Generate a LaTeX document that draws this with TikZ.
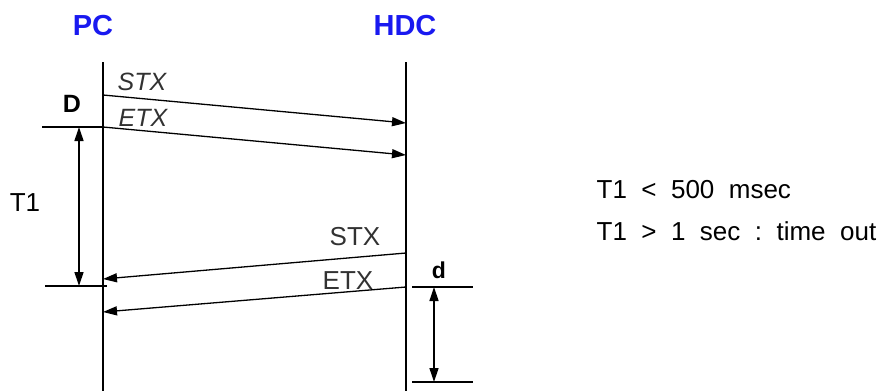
\documentclass[tikz,border=0pt]{standalone}
\usepackage{fontspec}
\setmainfont{Liberation Sans}
\usetikzlibrary{arrows.meta}
\definecolor{titleblue}{RGB}{25,25,240}
\definecolor{msggray}{RGB}{50,50,50}
\tikzset{
  title/.style={font=\bfseries\fontsize{29}{32}\selectfont,text=titleblue},
  msg/.style={font=\fontsize{26}{30}\selectfont,text=msggray,inner sep=0pt},
  msgit/.style={msg,font=\itshape\fontsize{25}{30}\selectfont},
  note/.style={font=\fontsize{26}{30}\selectfont,anchor=west,inner sep=0pt},
}
\begin{document}
\begin{tikzpicture}[x=1pt,y=-1pt,>={Triangle[length=14pt,width=9pt]},line width=1.3pt]
 \useasboundingbox (0,0) rectangle (888,391);
 % lifelines
 \node[title] (pc) at (93,26) {PC};
 \node[title] (hdc) at (405,26) {HDC};
 \coordinate (pctop) at (103,62);  \coordinate (pcbot) at (103,391);
 \coordinate (hdctop) at (406,62); \coordinate (hdcbot) at (406,391);
 \draw (pctop) -- (pcbot);
 \draw (hdctop) -- (hdcbot);
 % PC -> HDC
 \coordinate (stxa) at (103,95);  \coordinate (stxb) at (406,123);
 \coordinate (etxa) at (103,127); \coordinate (etxb) at (406,155);
 \draw[->] (stxa) -- (stxb);
 \draw[->] (etxa) -- (etxb);
 \node[msgit] (stxl) at (142,82) {STX};
 \node[msgit] (etxl) at (143,118) {ETX};
 % HDC -> PC
 \coordinate (stxc) at (406,253); \coordinate (stxd) at (103,279);
 \coordinate (etxc) at (406,287); \coordinate (etxd) at (103,312);
 \draw[->] (stxc) -- (stxd);
 \draw[->] (etxc) -- (etxd);
 \node[msg] (stxr) at (355,237) {STX};
 \node[msg] (etxr) at (348,281) {ETX};
 % T1
 \coordinate (dl) at (42,127);
 \coordinate (tla) at (45,286); \coordinate (tlb) at (107,286);
 \coordinate (tua) at (79,127);  \coordinate (tub) at (79,286);
 \draw (dl) -- (etxa);
 \draw (tla) -- (tlb);
 \draw[<->] (tua) -- (tub);
 \node[font=\bfseries\fontsize{25}{28}\selectfont] (dlab) at (72,104) {D};
 \node[font=\fontsize{26}{30}\selectfont] (tlab) at (25,203) {T1};
 % d
 \coordinate (da) at (412,287); \coordinate (db) at (473,287);
 \coordinate (dc) at (412,382); \coordinate (dd) at (473,382);
 \coordinate (dua) at (434,287); \coordinate (dub) at (434,382);
 \draw (da) -- (db);
 \draw (dc) -- (dd);
 \draw[<->] (dua) -- (dub);
 \node[font=\bfseries\fontsize{23}{26}\selectfont] (dsm) at (439,270) {d};
 % timing notes
 \node[note] (n1) at (596,190) {T1~~<~~500~~msec};
 \node[note] (n2) at (596,231) {T1~~>~~1~~sec~~:~~time~~out};
\end{tikzpicture}
\end{document}
